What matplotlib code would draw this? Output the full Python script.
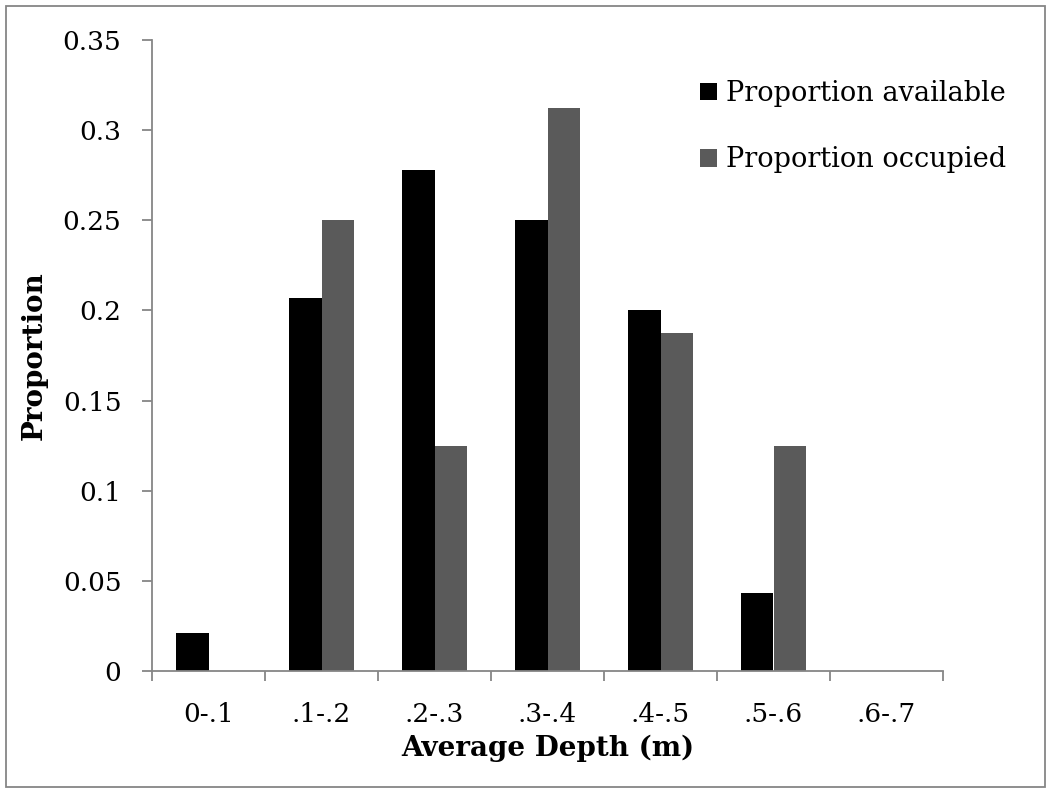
import numpy as np
import matplotlib.pyplot as plt
from matplotlib.patches import Rectangle

# depth bins and proportions
categories = ["0-.1", ".1-.2", ".2-.3", ".3-.4", ".4-.5", ".5-.6", ".6-.7"]
available = [0.021, 0.207, 0.278, 0.25, 0.2, 0.043, 0.0]
occupied = [0.0, 0.25, 0.125, 0.3125, 0.1875, 0.125, 0.0]
yticks = [0, 0.05, 0.1, 0.15, 0.2, 0.25, 0.3, 0.35]
ytick_labels = ["0", "0.05", "0.1", "0.15", "0.2", "0.25", "0.3", "0.35"]

plt.rcParams["font.family"] = ["DejaVu Serif"]
grey = "#868686"

fig = plt.figure(figsize=(10.51, 7.93), dpi=100)
ax = fig.add_axes([152/1051, 122/793, (943-152)/1051, (671-40)/793])

x = np.arange(len(categories))
w = 1/3.5
ax.bar(x - w/2, available, w, color="black", label="Proportion available")
ax.bar(x + w/2, occupied, w, color="#5a5a5a", label="Proportion occupied")

ax.set_xlim(-0.5, len(categories) - 0.5)
ax.set_ylim(0, 0.35)
ax.set_yticks(yticks)
ax.set_yticklabels(ytick_labels)
ax.set_xticks(x)
ax.set_xticklabels(categories)
ax.set_xticks(np.arange(len(categories) + 1) - 0.5, minor=True)

for s in ["top", "right"]:
    ax.spines[s].set_visible(False)
for s in ["left", "bottom"]:
    ax.spines[s].set_color(grey)
    ax.spines[s].set_linewidth(1.3)

ax.tick_params(axis="y", length=7, width=1.3, color=grey, pad=15, labelsize=19)
ax.tick_params(axis="x", which="major", length=0, pad=22, labelsize=19)
ax.tick_params(axis="x", which="minor", length=7, width=1.3, color=grey)

ax.set_ylabel("Proportion", fontsize=20, fontweight="bold", labelpad=11)
ax.set_xlabel("Average Depth (m)", fontsize=20, fontweight="bold", labelpad=6)

ax.legend(loc="upper left", bbox_to_anchor=(700/1051, 1 - 80/793),
          bbox_transform=fig.transFigure, frameon=False, fontsize=19.5,
          handlelength=0.63, handleheight=0.63, handletextpad=0.34,
          labelspacing=1.45, borderaxespad=0, borderpad=0)

fig.patches.append(Rectangle((6/1051, 6/793), 1 - 12/1051, 1 - 12/793,
                             transform=fig.transFigure, fill=False,
                             edgecolor=grey, linewidth=1.3))

fig.savefig("out.png", dpi=100)
